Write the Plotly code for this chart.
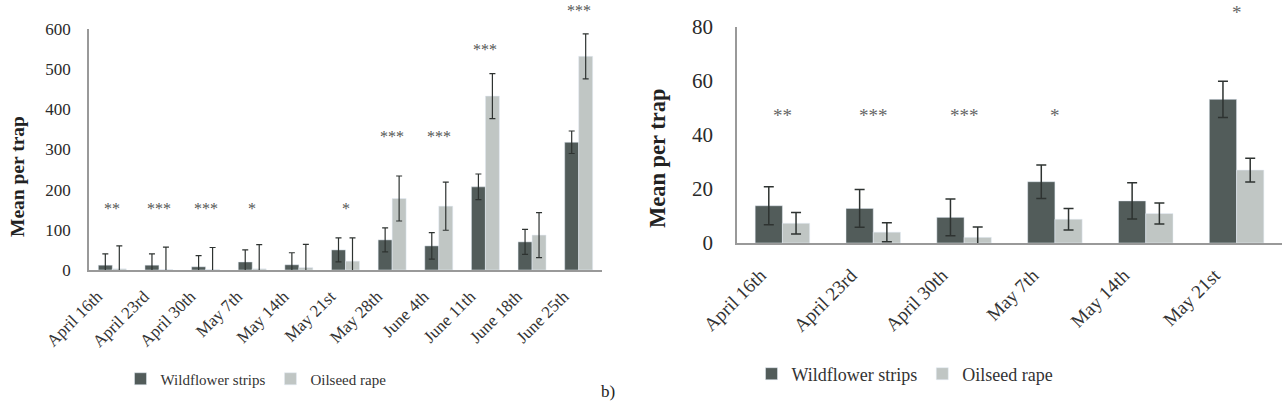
import plotly.graph_objects as go

# ---- Panel a) data ----
dates_a = ["April 16th", "April 23rd", "April 30th", "May 7th", "May 14th", "May 21st",
           "May 28th", "June 4th", "June 11th", "June 18th", "June 25th"]
wild_a = [12, 12, 8, 20, 13, 50, 75, 60, 207, 70, 318]
wild_a_err = [28, 28, 28, 30, 30, 30, 30, 33, 32, 31, 28]
oil_a = [3, 1, 1, 3, 6, 22, 178, 159, 433, 87, 532]
oil_a_err = [57, 56, 55, 60, 58, 58, 56, 60, 56, 56, 56]
sig_a = ["**", "***", "***", "*", "", "*", "***", "***", "***", "", "***"]
sig_a_y = [152, 152, 152, 152, 152, 152, 333, 333, 550, 550, 647]
ymax_a = 600

# ---- Panel b) data ----
dates_b = ["April 16th", "April 23rd", "April 30th", "May 7th", "May 14th", "May 21st"]
wild_b = [13.8, 12.8, 9.5, 22.7, 15.6, 53.2]
wild_b_err = [7.0, 7.0, 6.8, 6.2, 6.7, 6.7]
oil_b = [7.3, 4.0, 2.1, 8.8, 10.9, 27.0]
oil_b_err = [4.0, 3.5, 3.8, 4.0, 3.9, 4.4]
sig_b = ["**", "***", "***", "*", "", "*"]
sig_b_y = [47.4, 47.4, 47.4, 47.4, 47.4, 85.3]
ymax_b = 80

DARK = "#525c5a"
LIGHT = "#c0c6c4"
ERR = "#2e3331"
FONT = "Liberation Serif"
W, H = 1286, 401

fig = go.Figure()

def err(vals, w, t):
    return dict(type="data", array=vals, visible=True, color=ERR, thickness=t, width=w)

fig.add_trace(go.Bar(x=dates_a, y=wild_a, name="Wildflower strips", marker_color=DARK,
                     error_y=err(wild_a_err, 3, 1.2), xaxis="x", yaxis="y", legend="legend"))
fig.add_trace(go.Bar(x=dates_a, y=oil_a, name="Oilseed rape", marker_color=LIGHT,
                     error_y=err(oil_a_err, 3, 1.2), xaxis="x", yaxis="y", legend="legend"))
fig.add_trace(go.Bar(x=dates_b, y=wild_b, name="Wildflower strips", marker_color=DARK,
                     error_y=err(wild_b_err, 5, 1.5), xaxis="x2", yaxis="y2", legend="legend2"))
fig.add_trace(go.Bar(x=dates_b, y=oil_b, name="Oilseed rape", marker_color=LIGHT,
                     error_y=err(oil_b_err, 5, 1.5), xaxis="x2", yaxis="y2", legend="legend2"))

ann = []
# significance markers (axis-domain reference so markers above the range stay visible)
for d, s, yv in zip(dates_a, sig_a, sig_a_y):
    if s:
        ann.append(dict(x=d, y=yv / ymax_a, xref="x", yref="y domain", text=s, showarrow=False,
                        xanchor="center", yanchor="middle",
                        font=dict(family=FONT, size=16, color="#555")))
for d, s, yv in zip(dates_b, sig_b, sig_b_y):
    if s:
        ann.append(dict(x=d, y=yv / ymax_b, xref="x2", yref="y2 domain", text=s, showarrow=False,
                        xanchor="center", yanchor="middle",
                        font=dict(family=FONT, size=19, color="#666")))

ann.append(dict(x=18 / W, y=1 - 177 / H, xref="paper", yref="paper", text="<b>Mean per trap</b>",
                textangle=-90, showarrow=False, xanchor="center", yanchor="middle",
                font=dict(family=FONT, size=19.5, color="#222")))
ann.append(dict(x=657 / W, y=1 - 158 / H, xref="paper", yref="paper", text="<b>Mean per trap</b>",
                textangle=-90, showarrow=False, xanchor="center", yanchor="middle",
                font=dict(family=FONT, size=22.5, color="#222")))
ann.append(dict(x=608 / W, y=1 - 391 / H, xref="paper", yref="paper", text="b)",
                showarrow=False, xanchor="center", yanchor="middle",
                font=dict(family=FONT, size=17, color="#222")))

fig.update_layout(
    width=W, height=H, margin=dict(l=0, r=0, t=0, b=0, autoexpand=False),
    plot_bgcolor="white", paper_bgcolor="white",
    barmode="group", bargap=0.4, bargroupgap=0,
    font=dict(family=FONT, color="#333"),
    xaxis=dict(domain=[89 / W, 602 / W], anchor="y", showline=True, linecolor="#999",
               linewidth=1.5, tickangle=-45, tickfont=dict(family=FONT, size=17, color="#333"),
               ticks="", showgrid=False, ticklabelstandoff=8, ticklabelshift=-15,
               automargin=False),
    yaxis=dict(domain=[1 - 270 / H, 1 - 29 / H], anchor="x", range=[0, ymax_a], dtick=100,
               showline=True, linecolor="#999", linewidth=1.5, showgrid=True,
               gridcolor="rgba(255,255,255,0.7)", layer="above traces", zeroline=False,
               tickfont=dict(family=FONT, size=17, color="#2a2a2a"), ticklabelstandoff=13,
               automargin=False),
    xaxis2=dict(domain=[737 / W, 1282 / W], anchor="y2", showline=True, linecolor="#999",
                linewidth=1.5, tickangle=-45, tickfont=dict(family=FONT, size=19, color="#333"),
                ticks="", showgrid=False, ticklabelstandoff=12, ticklabelshift=-22,
                automargin=False),
    yaxis2=dict(domain=[1 - 243 / H, 1 - 27 / H], anchor="x2", range=[0, ymax_b], dtick=20,
                showline=True, linecolor="#999", linewidth=1.5, showgrid=True,
                gridcolor="rgba(255,255,255,0.7)", layer="above traces", zeroline=False,
                tickfont=dict(family=FONT, size=21, color="#2a2a2a"), ticklabelstandoff=18,
                automargin=False),
    legend=dict(orientation="h", x=256 / W, y=1 - 379 / H, xanchor="center", yanchor="middle",
                font=dict(family=FONT, size=15, color="#333"), bgcolor="rgba(0,0,0,0)",
                itemwidth=30),
    legend2=dict(orientation="h", x=905 / W, y=1 - 374 / H, xanchor="center", yanchor="middle",
                 font=dict(family=FONT, size=18, color="#333"), bgcolor="rgba(0,0,0,0)",
                 itemwidth=30),
    annotations=ann,
)
fig.update_xaxes(layer="above traces")

fig.write_html("out.html")
